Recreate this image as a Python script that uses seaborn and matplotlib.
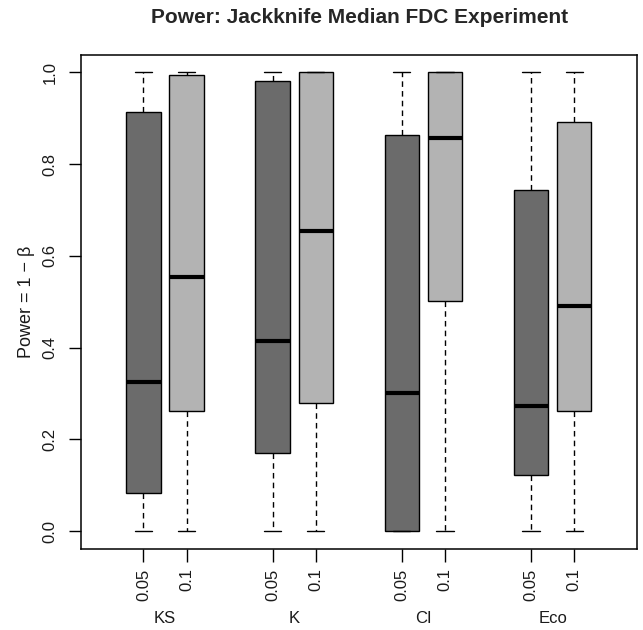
import matplotlib
import matplotlib.pyplot as plt
import matplotlib.transforms as mtransforms
import numpy as np
import pandas as pd
import seaborn as sns

matplotlib.use("Agg")

# Five-number summaries, box order:
# KS 0.05, KS 0.1, K 0.05, K 0.1, CI 0.05, CI 0.1, Eco 0.05, Eco 0.1
GROUPS = ["KS", "K", "CI", "Eco"]
ALPHAS = ["0.05", "0.1"]
POSITIONS = [1, 2, 4, 5, 7, 8, 10, 11]
LOWER = [0.0, 0.0, 0.0, 0.0, 0.0, 0.0, 0.0, 0.0]
Q1 = [0.084, 0.262, 0.171, 0.280, 0.0, 0.501, 0.122, 0.262]
MEDIAN = [0.324, 0.555, 0.414, 0.655, 0.302, 0.857, 0.273, 0.491]
Q3 = [0.914, 0.995, 0.982, 1.0, 0.864, 1.0, 0.743, 0.891]
UPPER = [1.0, 1.0, 1.0, 1.0, 1.0, 1.0, 1.0, 1.0]

COLORS = {"0.05": "#6b6b6b", "0.1": "#b3b3b3"}


def build_frame() -> pd.DataFrame:
    rows = []
    for i, pos in enumerate(POSITIONS):
        alpha = ALPHAS[i % 2]
        for v in (LOWER[i], Q1[i], MEDIAN[i], Q3[i], UPPER[i]):
            rows.append({"pos": pos, "alpha": alpha, "power": v})
    return pd.DataFrame(rows)


def main() -> None:
    sns.set_theme(style="ticks")
    plt.rcParams["font.family"] = ["Liberation Sans", "DejaVu Sans"]

    df = build_frame()

    fig = plt.figure(figsize=(6.43, 6.30), dpi=100, facecolor="white")
    ax = fig.add_axes([0.126, 0.1286, 0.8654, 0.7841])

    sns.boxplot(
        data=df,
        x="pos",
        y="power",
        hue="alpha",
        native_scale=True,
        dodge=False,
        width=0.8,
        palette=COLORS,
        saturation=1,
        whis=(0, 100),
        linecolor="black",
        linewidth=1.0,
        medianprops={"linewidth": 3.0, "color": "black"},
        whiskerprops={"linestyle": (0, (4, 3))},
        legend=False,
        ax=ax,
    )

    ax.set_xlim(-0.45, 12.47)
    ax.set_ylim(-0.039, 1.038)

    ax.set_xticks(POSITIONS)
    ax.set_xticklabels([ALPHAS[i % 2] for i in range(len(POSITIONS))], rotation=90, fontsize=12)
    ax.set_yticks([0.0, 0.2, 0.4, 0.6, 0.8, 1.0])
    ax.set_yticklabels(["0.0", "0.2", "0.4", "0.6", "0.8", "1.0"], rotation=90, va="center", fontsize=12)
    ax.tick_params(length=9, width=1.0, color="black", labelcolor="#1a1a1a")
    ax.tick_params(axis="x", pad=5)
    ax.tick_params(axis="y", pad=8)

    for spine in ax.spines.values():
        spine.set_visible(True)
        spine.set_linewidth(1.1)
        spine.set_color("black")

    ax.set_xlabel("")
    ax.set_ylabel("Power = 1 \u2212 \u03b2", fontsize=13, labelpad=5, color="#1a1a1a")
    ax.set_title("Power: Jackknife Median FDC Experiment", fontsize=15, fontweight="bold", pad=23)

    trans = mtransforms.blended_transform_factory(ax.transData, ax.transAxes)
    for g, name in enumerate(GROUPS):
        center = (POSITIONS[2 * g] + POSITIONS[2 * g + 1]) / 2
        ax.text(center, -0.14, name, transform=trans, ha="center", va="center", fontsize=12, color="#1a1a1a")

    fig.savefig("out.png", dpi=100, facecolor="white")
    plt.close(fig)


if __name__ == "__main__":
    main()
